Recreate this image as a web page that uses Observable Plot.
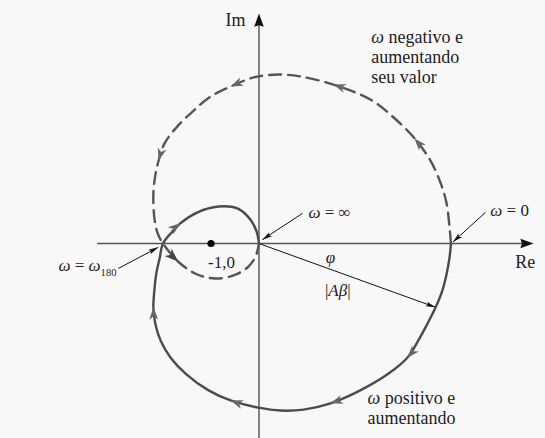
<!DOCTYPE html>
<html>
<head>
<meta charset="utf-8">
<script src="https://cdn.jsdelivr.net/npm/d3@7"></script>
<script src="https://cdn.jsdelivr.net/npm/@observablehq/plot@0.6"></script>
<style>
  html, body { margin: 0; padding: 0; background: #f8f8f8; }
  #chart svg { display: block; background: #f8f8f8; }
</style>
</head>
<body>
<div id="chart"></div>
<script>
// Nyquist locus of Aβ(jω): real and imaginary parts.
// Branch for ω > 0 (from ω = 0 to ω = ∞), drawn solid.
const positiveRe = [4.00, 3.97, 3.91, 3.82, 3.68, 3.51, 3.32, 3.09, 2.70, 2.11, 1.49, 0.93, 0.45, -0.01, -0.59, -1.05, -1.53, -1.84, -2.05, -2.16, -2.20, -2.18, -2.14, -2.07, -2.00, -1.82, -1.64, -1.28, -0.84, -0.45, -0.18, -0.05, 0.00];
const positiveIm = [0.00, -0.29, -0.63, -0.98, -1.33, -1.67, -2.02, -2.38, -2.71, -3.06, -3.33, -3.46, -3.48, -3.42, -3.27, -3.06, -2.71, -2.38, -2.02, -1.67, -1.33, -0.98, -0.63, -0.31, 0.00, 0.23, 0.42, 0.65, 0.77, 0.73, 0.50, 0.25, 0.00];

// Branch for ω < 0 (from ω = 0 to ω = −∞), drawn dashed.
const negativeRe = [4.00, 3.97, 3.91, 3.78, 3.57, 3.24, 2.80, 2.32, 1.55, 0.86, 0.39, -0.11, -0.59, -1.01, -1.36, -1.70, -1.97, -2.09, -2.16, -2.20, -2.18, -2.11, -2.00, -1.68, -1.32, -0.91, -0.49, -0.22, -0.07, 0.00];
const negativeIm = [0.00, 0.33, 0.83, 1.27, 1.73, 2.19, 2.63, 3.00, 3.31, 3.48, 3.52, 3.46, 3.27, 3.06, 2.77, 2.44, 2.08, 1.73, 1.42, 1.04, 0.54, 0.21, 0.00, -0.38, -0.63, -0.73, -0.65, -0.48, -0.27, 0.00];

// Where the direction arrowheads sit on each branch (point indices).
const positiveArrowAt = [7, 10, 14, 20, 26];
const negativeArrowAt = [5, 8, 12, 17];
const negativeBoldArrowAt = [23];

// The point on the ω > 0 branch that the |Aβ| vector points to.
const vectorTargetAt = 4;

// Critical point −1 + j0.
const criticalRe = [-1];
const criticalIm = [0];

// Axis extents (real and imaginary).
const reAxis = [-3.36, 5.72];
const imAxis = [-4.07, 4.79];

// Text labels.
const axisLabels = ["Im", "Re"];
const noteLabels = ["ω negativo e\naumentando\nseu valor", "ω positivo e\naumentando"];
const freqLabels = ["ω = ∞", "ω = 0", "ω = ω_180"];
const markLabels = ["-1,0", "φ", "|Aβ|"];

// Where each label sits (baseline of its last line), in the same order.
const labelPlacement = [
  {x: -0.28, y: 4.54, anchor: "end", size: 18},
  {x: 5.34, y: -0.52, anchor: "start", size: 18},
  {x: 2.34, y: 3.35, anchor: "start", size: 18, leading: 20},
  {x: 2.26, y: -3.75, anchor: "start", size: 18, leading: 20},
  {x: 1.03, y: 0.54, anchor: "start", size: 17},
  {x: 4.82, y: 0.58, anchor: "start", size: 17},
  {x: -2.97, y: -0.58, anchor: "end", size: 17},
  {x: -0.78, y: -0.52, anchor: "middle", size: 17},
  {x: 1.49, y: -0.40, anchor: "middle", size: 17},
  {x: 1.64, y: -1.10, anchor: "middle", size: 17}
];

// ---------------------------------------------------------------------------

const toPoints = (re, im) => re.map((x, i) => ({x, y: im[i]}));
const positive = toPoints(positiveRe, positiveIm);
const negative = toPoints(negativeRe, negativeIm);

const heading = (dx, dy) => Math.atan2(dx, dy) * 180 / Math.PI;

// Arrowheads oriented along the local direction of travel.
function arrowsAlong(points, indices) {
  return indices.map((i) => {
    const a = points[Math.max(0, i - 1)];
    const b = points[Math.min(points.length - 1, i + 1)];
    return {x: points[i].x, y: points[i].y, angle: heading(b.x - a.x, b.y - a.y)};
  });
}

// Arrowhead symbols with the tip at the symbol origin, pointing up.
function arrowHead(notch, spread) {
  return {
    draw(context, size) {
      const r = Math.sqrt(size / Math.PI);
      const L = 2.2 * r, w = spread * r;
      context.moveTo(0, 0);
      context.lineTo(w, L);
      context.lineTo(0, notch * L);
      context.lineTo(-w, L);
      context.closePath();
    }
  };
}
const barbed = arrowHead(0.72, 0.8);
const pointed = arrowHead(0.88, 0.8);
const slender = arrowHead(0.8, 0.55);

const target = positive[vectorTargetAt];
const axisTips = [
  {x: reAxis[1], y: 0, angle: 90},
  {x: 0, y: imAxis[1], angle: 0}
];

// Leaders: from the label to the point they name, plus the |Aβ| vector.
const leaders = [
  {x1: 0.91, y1: 0.63, x2: 0.07, y2: 0.08},
  {x1: 4.72, y1: 0.65, x2: 4.04, y2: 0.03},
  {x1: -2.93, y1: -0.52, x2: -2.10, y2: -0.08},
  {x1: 0, y1: 0, x2: target.x, y2: target.y}
];
const leaderTips = leaders.map((d) => ({x: d.x2, y: d.y2, angle: heading(d.x2 - d.x1, d.y2 - d.y1)}));

const labelFont = "Liberation Serif";
const ink = "#1c1c1c";

// Labels are set as runs: ω, φ, A, β in italics and "_n" as a subscript.
const measureCtx = document.createElement("canvas").getContext("2d");
function measure(str, size, italic) {
  measureCtx.font = `${italic ? "italic " : ""}${size}px "${labelFont}"`;
  return measureCtx.measureText(str).width;
}
function labelRuns(text, at) {
  const lines = text.split("\n");
  const runs = [];
  lines.forEach((line, li) => {
    const lineDy = (li - (lines.length - 1)) * (at.leading || 0);
    const pieces = line.split(/(ω|φ|β|A|_\d+)/).filter((p) => p).map((p) => {
      const italic = /^[ωφβA]$/.test(p);
      const sub = p[0] === "_";
      const str = sub ? p.slice(1) : p;
      const size = sub ? at.size * 0.62 : at.size;
      return {str, italic, sub, size, width: measure(str, size, italic)};
    });
    const total = d3.sum(pieces, (p) => p.width);
    let cursor = at.anchor === "end" ? -total : at.anchor === "middle" ? -total / 2 : 0;
    for (const p of pieces) {
      runs.push({...p, x: at.x, y: at.y, dx: cursor, dy: lineDy + (p.sub ? at.size * 0.3 : 0)});
      cursor += p.width;
    }
  });
  return runs;
}
const allLabels = [...axisLabels, ...noteLabels, ...freqLabels, ...markLabels];
const runs = allLabels.flatMap((t, i) => labelRuns(t, labelPlacement[i]));
const labelMarks = runs.map((r) => Plot.text([r], {
  x: "x", y: "y", text: "str", dx: r.dx, dy: r.dy,
  fontSize: r.size, fontStyle: r.italic ? "italic" : "normal", fontFamily: labelFont,
  textAnchor: "start", lineAnchor: "bottom", fill: ink
}));

const chart = Plot.plot({
  width: 545,
  height: 438,
  margin: 0,
  x: {domain: [-5.385, 5.969], axis: null},
  y: {domain: [-4.0625, 5.0625], axis: null},
  marks: [
    // axes
    Plot.ruleY([0], {x1: reAxis[0], x2: reAxis[1] - 0.1, stroke: "#555", strokeWidth: 1.6}),
    Plot.ruleX([0], {y1: imAxis[0], y2: imAxis[1] - 0.1, stroke: "#666", strokeWidth: 1.6}),
    Plot.dot(axisTips, {x: "x", y: "y", rotate: "angle", symbol: pointed, r: 6, fill: "#111", stroke: "none"}),

    // leaders and the |Aβ| vector
    Plot.link(leaders, {x1: "x1", y1: "y1", x2: "x2", y2: "y2", stroke: "#111", strokeWidth: 1}),
    Plot.dot(leaderTips, {x: "x", y: "y", rotate: "angle", symbol: slender, r: 4.5, fill: "#111", stroke: "none"}),

    // ω < 0 branch
    Plot.line(negative, {x: "x", y: "y", curve: "catmull-rom", stroke: "#555", strokeWidth: 2.4, strokeDasharray: "12,7"}),
    // ω > 0 branch
    Plot.line(positive, {x: "x", y: "y", curve: "catmull-rom", stroke: "#4b4b4b", strokeWidth: 2.4}),

    // direction arrowheads
    Plot.dot(arrowsAlong(positive, positiveArrowAt), {x: "x", y: "y", rotate: "angle", symbol: barbed, r: 5.6, fill: "#666", stroke: "none"}),
    Plot.dot(arrowsAlong(negative, negativeArrowAt), {x: "x", y: "y", rotate: "angle", symbol: barbed, r: 5.6, fill: "#666", stroke: "none"}),
    Plot.dot(arrowsAlong(negative, negativeBoldArrowAt), {x: "x", y: "y", rotate: "angle", symbol: barbed, r: 6.4, fill: "#444", stroke: "none"}),

    // critical point
    Plot.dot(toPoints(criticalRe, criticalIm), {x: "x", y: "y", r: 3.6, fill: "#000", stroke: "none"}),

    // labels
    ...labelMarks
  ]
});

document.getElementById("chart").appendChild(chart);
</script>
</body>
</html>
